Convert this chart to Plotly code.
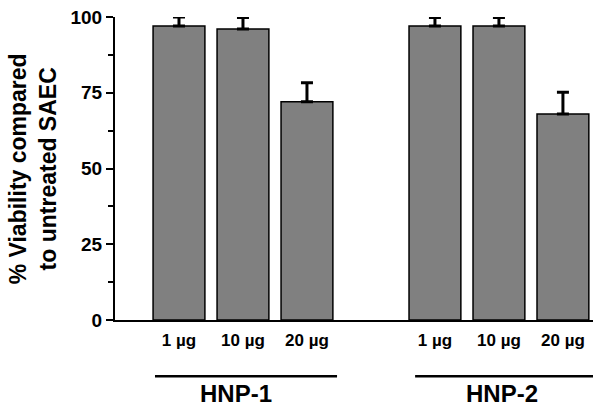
import plotly.graph_objects as go

# Data
groups = ["HNP-1", "HNP-2"]
doses = ["1 µg", "10 µg", "20 µg"]
hnp1_values = [97.0, 96.0, 72.0]
hnp1_errors = [3.0, 3.8, 6.3]
hnp2_values = [97.0, 97.0, 68.0]
hnp2_errors = [2.8, 2.8, 7.2]
y_ticks = [0, 25, 50, 75, 100]

x_pos = [0, 1, 2, 4, 5, 6]
values = hnp1_values + hnp2_values
errors = hnp1_errors + hnp2_errors
tick_text = doses + doses

font_family = "Liberation Sans, Arial, sans-serif"

fig = go.Figure()
fig.add_trace(go.Bar(
    x=x_pos, y=values, width=0.81,
    marker=dict(color="#808080", line=dict(color="black", width=1.5)),
    error_y=dict(type="data", symmetric=False, array=errors,
                 arrayminus=[0] * len(errors),
                 color="black", thickness=3, width=6),
    showlegend=False, hoverinfo="skip",
))

# group underline + labels
group_spans = [(-0.375, 2.47), (3.69, 6.5)]
group_label_x = [0.89, 5.05]
for (x0, x1), gx, g in zip(group_spans, group_label_x, groups):
    fig.add_shape(type="line", xref="x", yref="paper", x0=x0, x1=x1,
                  y0=-0.186, y1=-0.186, line=dict(color="black", width=2.5))
    fig.add_annotation(x=gx, y=-0.242, xref="x", yref="paper", text=g,
                       showarrow=False, yanchor="middle", xanchor="center",
                       font=dict(size=24, family=font_family, color="black",
                                 weight="bold"))

fig.add_annotation(x=-0.172, y=0.5, xref="paper", yref="paper",
                   text="% Viability compared<br>to untreated SAEC",
                   textangle=-90, showarrow=False, xanchor="center",
                   yanchor="middle",
                   font=dict(size=23, family=font_family, color="black",
                             weight="bold"))

fig.update_layout(
    width=600, height=409,
    margin=dict(l=115, r=7, t=14, b=89),
    paper_bgcolor="white", plot_bgcolor="white",
    font=dict(family=font_family, color="black", weight="bold"),
    xaxis=dict(range=[-1, 6.47], tickvals=x_pos, ticktext=tick_text,
               showline=True, linecolor="black", linewidth=2,
               ticks="", showgrid=False, zeroline=False,
               tickfont=dict(size=17, weight="bold"),
               ticklabelstandoff=4, fixedrange=True),
    yaxis=dict(range=[0, 100], tickvals=y_ticks,
               showline=True, linecolor="black", linewidth=2,
               ticks="outside", ticklen=7, tickwidth=2, tickcolor="black",
               minor=dict(dtick=12.5, tick0=0, ticks="outside", ticklen=5,
                          tickwidth=2, tickcolor="black"),
               showgrid=False, zeroline=False,
               tickfont=dict(size=19, weight="bold"), fixedrange=True),
)

fig.write_html("out.html",
               config={"displayModeBar": False, "staticPlot": True},
               post_script="document.body.style.margin='0';"
                           "document.body.style.overflow='hidden';")
